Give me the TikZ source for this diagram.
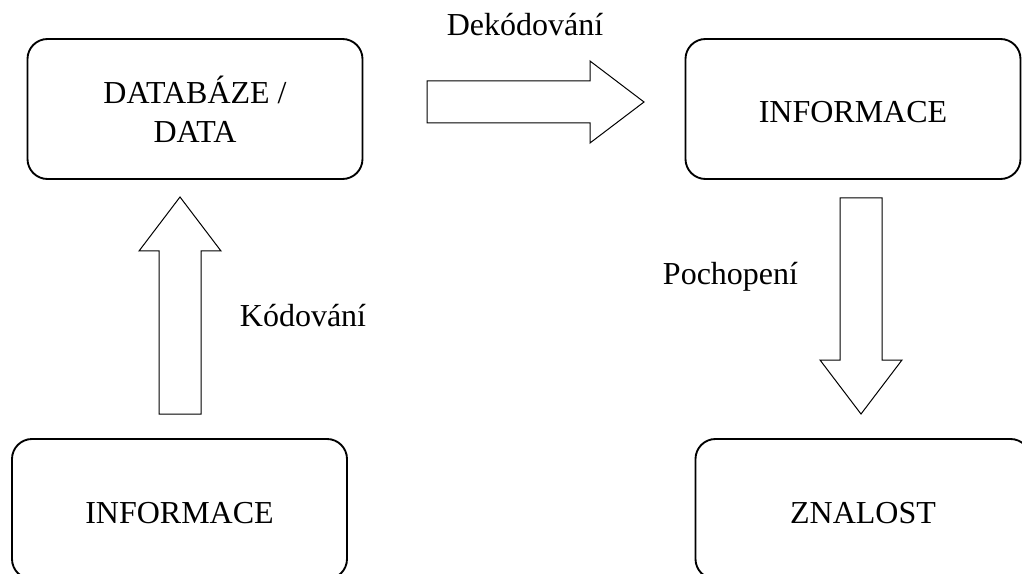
\documentclass[tikz,border=0pt]{standalone}
\usepackage{fontspec}
\setmainfont{Liberation Serif}
\usetikzlibrary{calc,positioning}

\tikzset{
  box/.style={draw, line width=1.4pt, rounded corners=15pt, minimum width=251.25pt,
    minimum height=105pt, align=center, inner sep=0pt, font=\fontsize{24}{29}\selectfont},
  oneline/.style={text height=24pt, text depth=3pt},
  lbl/.style={anchor=base, inner sep=0pt, font=\fontsize{24}{29}\selectfont},
  blk/.style={draw, line width=0.75pt, line join=miter, fill=white}
}

% block arrow from #1 to #2
\newcommand{\blockarrow}[2]{%
  \coordinate (hb) at ($(#2)!\headl!(#1)$);
  \draw[blk] ($(#1)!\bodyw!90:(#2)$) -- ($(hb)!\bodyw!90:(#2)$)
    -- ($(hb)!\headw!90:(#2)$) -- (#2) -- ($(hb)!\headw!-90:(#2)$)
    -- ($(hb)!\bodyw!-90:(#2)$) -- ($(#1)!\bodyw!-90:(#2)$) -- cycle;}

\begin{document}
\begin{tikzpicture}[x=0.75pt, y=-0.75pt]
    \pgfmathsetlengthmacro{\bodyw}{21*0.75pt}
    \pgfmathsetlengthmacro{\headw}{41*0.75pt}
    \pgfmathsetlengthmacro{\headl}{54*0.75pt}

    \useasboundingbox (0,0) rectangle (1022,574);

    \node[box] (data) at (195,109) {DATABÁZE /\\DATA};
    \node[box, oneline] (info) at (853,109) {INFORMACE};
    \node[box, oneline] (src) at (179.5,509) {INFORMACE};
    \node[box, oneline] (know) at (863,509) {ZNALOST};

    \coordinate (dekA) at (427,102);
    \coordinate (dekB) at (644,102);
    \coordinate (kodA) at (180,414);
    \coordinate (kodB) at (180,197);
    \coordinate (pocA) at (861,198);
    \coordinate (pocB) at (861,414);

    \blockarrow{dekA}{dekB}
    \blockarrow{kodA}{kodB}
    \blockarrow{pocA}{pocB}

    \node[lbl] (dek) at (525,36) {Dekódování};
    \node[lbl] (kod) at (303,326) {Kódování};
    \node[lbl] (poc) at (730.5,285) {Pochopení};
\end{tikzpicture}
\end{document}
